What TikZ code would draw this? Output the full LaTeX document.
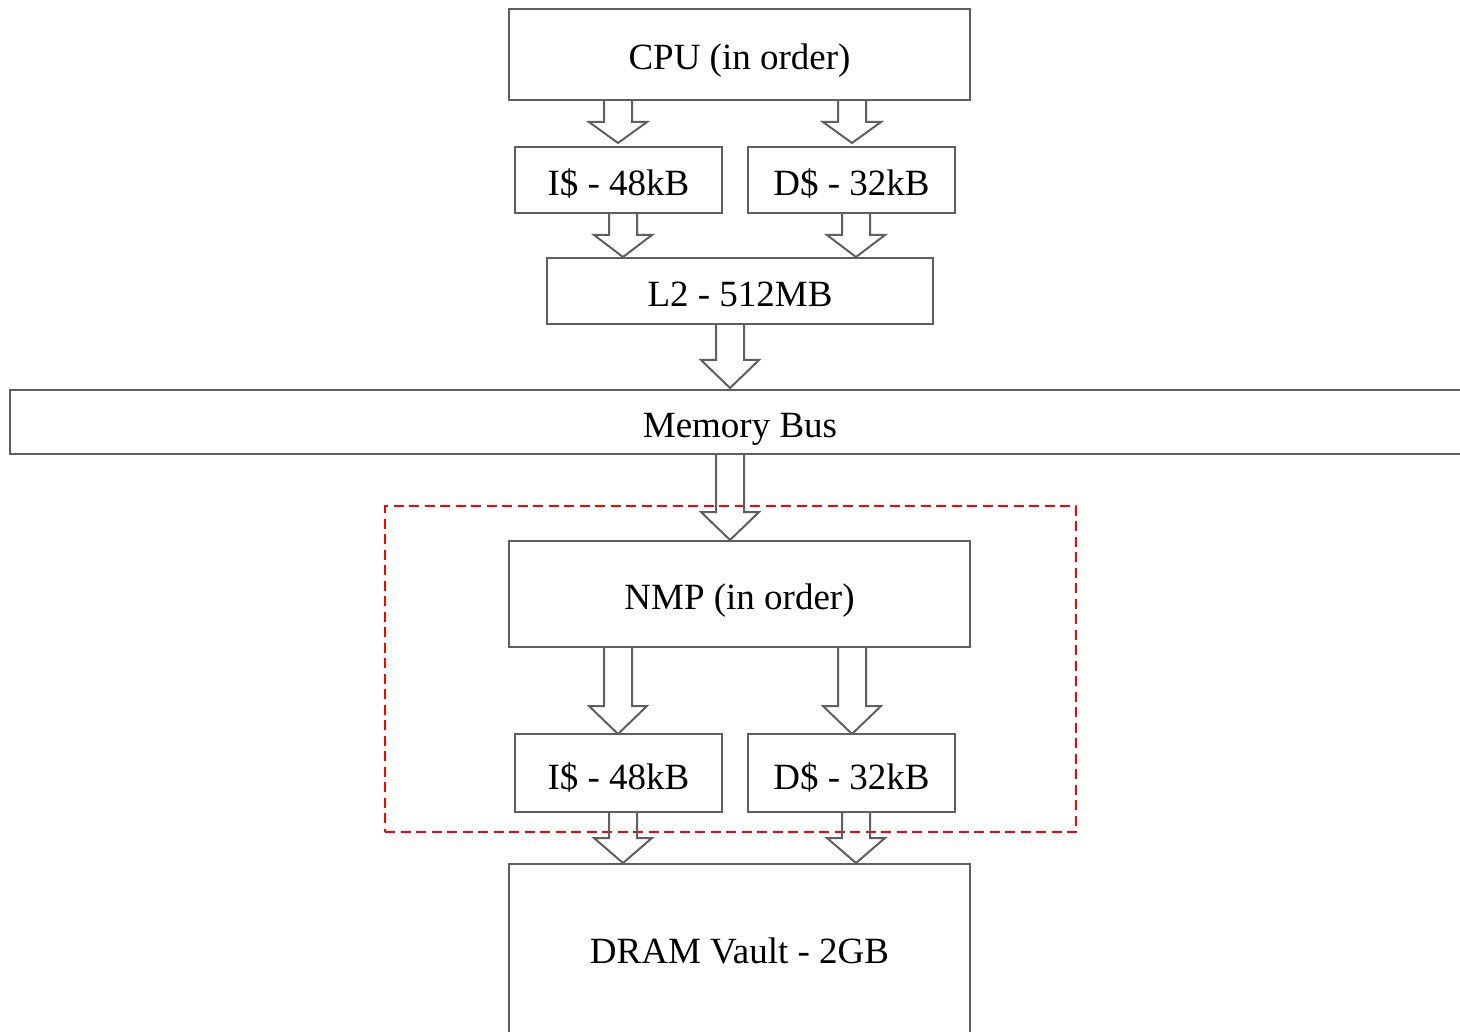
\documentclass[tikz,border=0pt]{standalone}
\usepackage{fontspec}
\setmainfont{Liberation Serif}
\usetikzlibrary{calc}
\definecolor{edge}{HTML}{5F5F5F}
\tikzset{
  box/.style={draw=edge, line width=2pt, fill=white, inner sep=0pt, outer sep=0pt,
    font=\fontsize{37pt}{44pt}\selectfont, text=black, text depth=8pt},
  blockarrow/.style={draw=edge, line width=2pt, line join=miter},
  dashbox/.style={draw=red, line width=1.6pt, dash pattern=on 10pt off 5.5pt, inner sep=0pt, outer sep=0pt}
}
% block arrow: #1 source, #2 target, #3 x position, #4 head length, #5 gap above target
\newcommand\blockarr[5]{%
  \draw[blockarrow] let \p1=(#1.south), \p2=(#2.north) in
    (#3pt-14pt,\y1) -- (#3pt-14pt,\y2+#5pt+#4pt) -- (#3pt-29pt,\y2+#5pt+#4pt)
    -- (#3pt,\y2+#5pt) -- (#3pt+29pt,\y2+#5pt+#4pt) -- (#3pt+14pt,\y2+#5pt+#4pt)
    -- (#3pt+14pt,\y1);}
\begin{document}
\begin{tikzpicture}[x=1pt,y=-1pt]
\clip (0,0) rectangle (1460,1032);
\fill[white] (0,0) rectangle (1460,1032);

% dashed enclosure of the near-memory processor
\node[dashbox, minimum width=691pt, minimum height=326pt] (nmpzone) at (730.5,669) {};

% host side
\node[box, text height=39pt, minimum width=461pt, minimum height=91pt] (cpu) at (739.5,54.5) {CPU (in order)};
\node[box, text height=40pt, minimum width=207pt, minimum height=66pt] (ic1) at (618.5,180) {I\$ - 48kB};
\node[box, text height=40pt, minimum width=207pt, minimum height=66pt] (dc1) at (851.5,180) {D\$ - 32kB};
\node[box, text height=40pt, minimum width=386pt, minimum height=66pt] (l2) at (740,291) {L2 - 512MB};
\node[box, text height=38pt, minimum width=1460pt, minimum height=64pt] (bus) at (740,422) {Memory Bus};

% memory side
\node[box, text height=38pt, minimum width=461pt, minimum height=106pt] (nmp) at (739.5,594) {NMP (in order)};
\node[box, text height=40pt, minimum width=207pt, minimum height=78pt] (ic2) at (618.5,773) {I\$ - 48kB};
\node[box, text height=40pt, minimum width=207pt, minimum height=78pt] (dc2) at (851.5,773) {D\$ - 32kB};
\node[box, text height=30pt, minimum width=461pt, minimum height=176pt] (dram) at (739.5,952) {DRAM Vault - 2GB};

% connections
\blockarr{cpu}{ic1}{618}{21}{4}
\blockarr{cpu}{dc1}{852}{21}{4}
\blockarr{ic1}{l2}{623}{22}{1}
\blockarr{dc1}{l2}{856}{22}{1}
\blockarr{l2}{bus}{730}{28}{2}
\blockarr{bus}{nmp}{730}{28}{1}
\blockarr{nmp}{ic2}{618}{28}{0}
\blockarr{nmp}{dc2}{852}{28}{0}
\blockarr{ic2}{dram}{623}{25}{1}
\blockarr{dc2}{dram}{856}{25}{1}
\end{tikzpicture}
\end{document}
